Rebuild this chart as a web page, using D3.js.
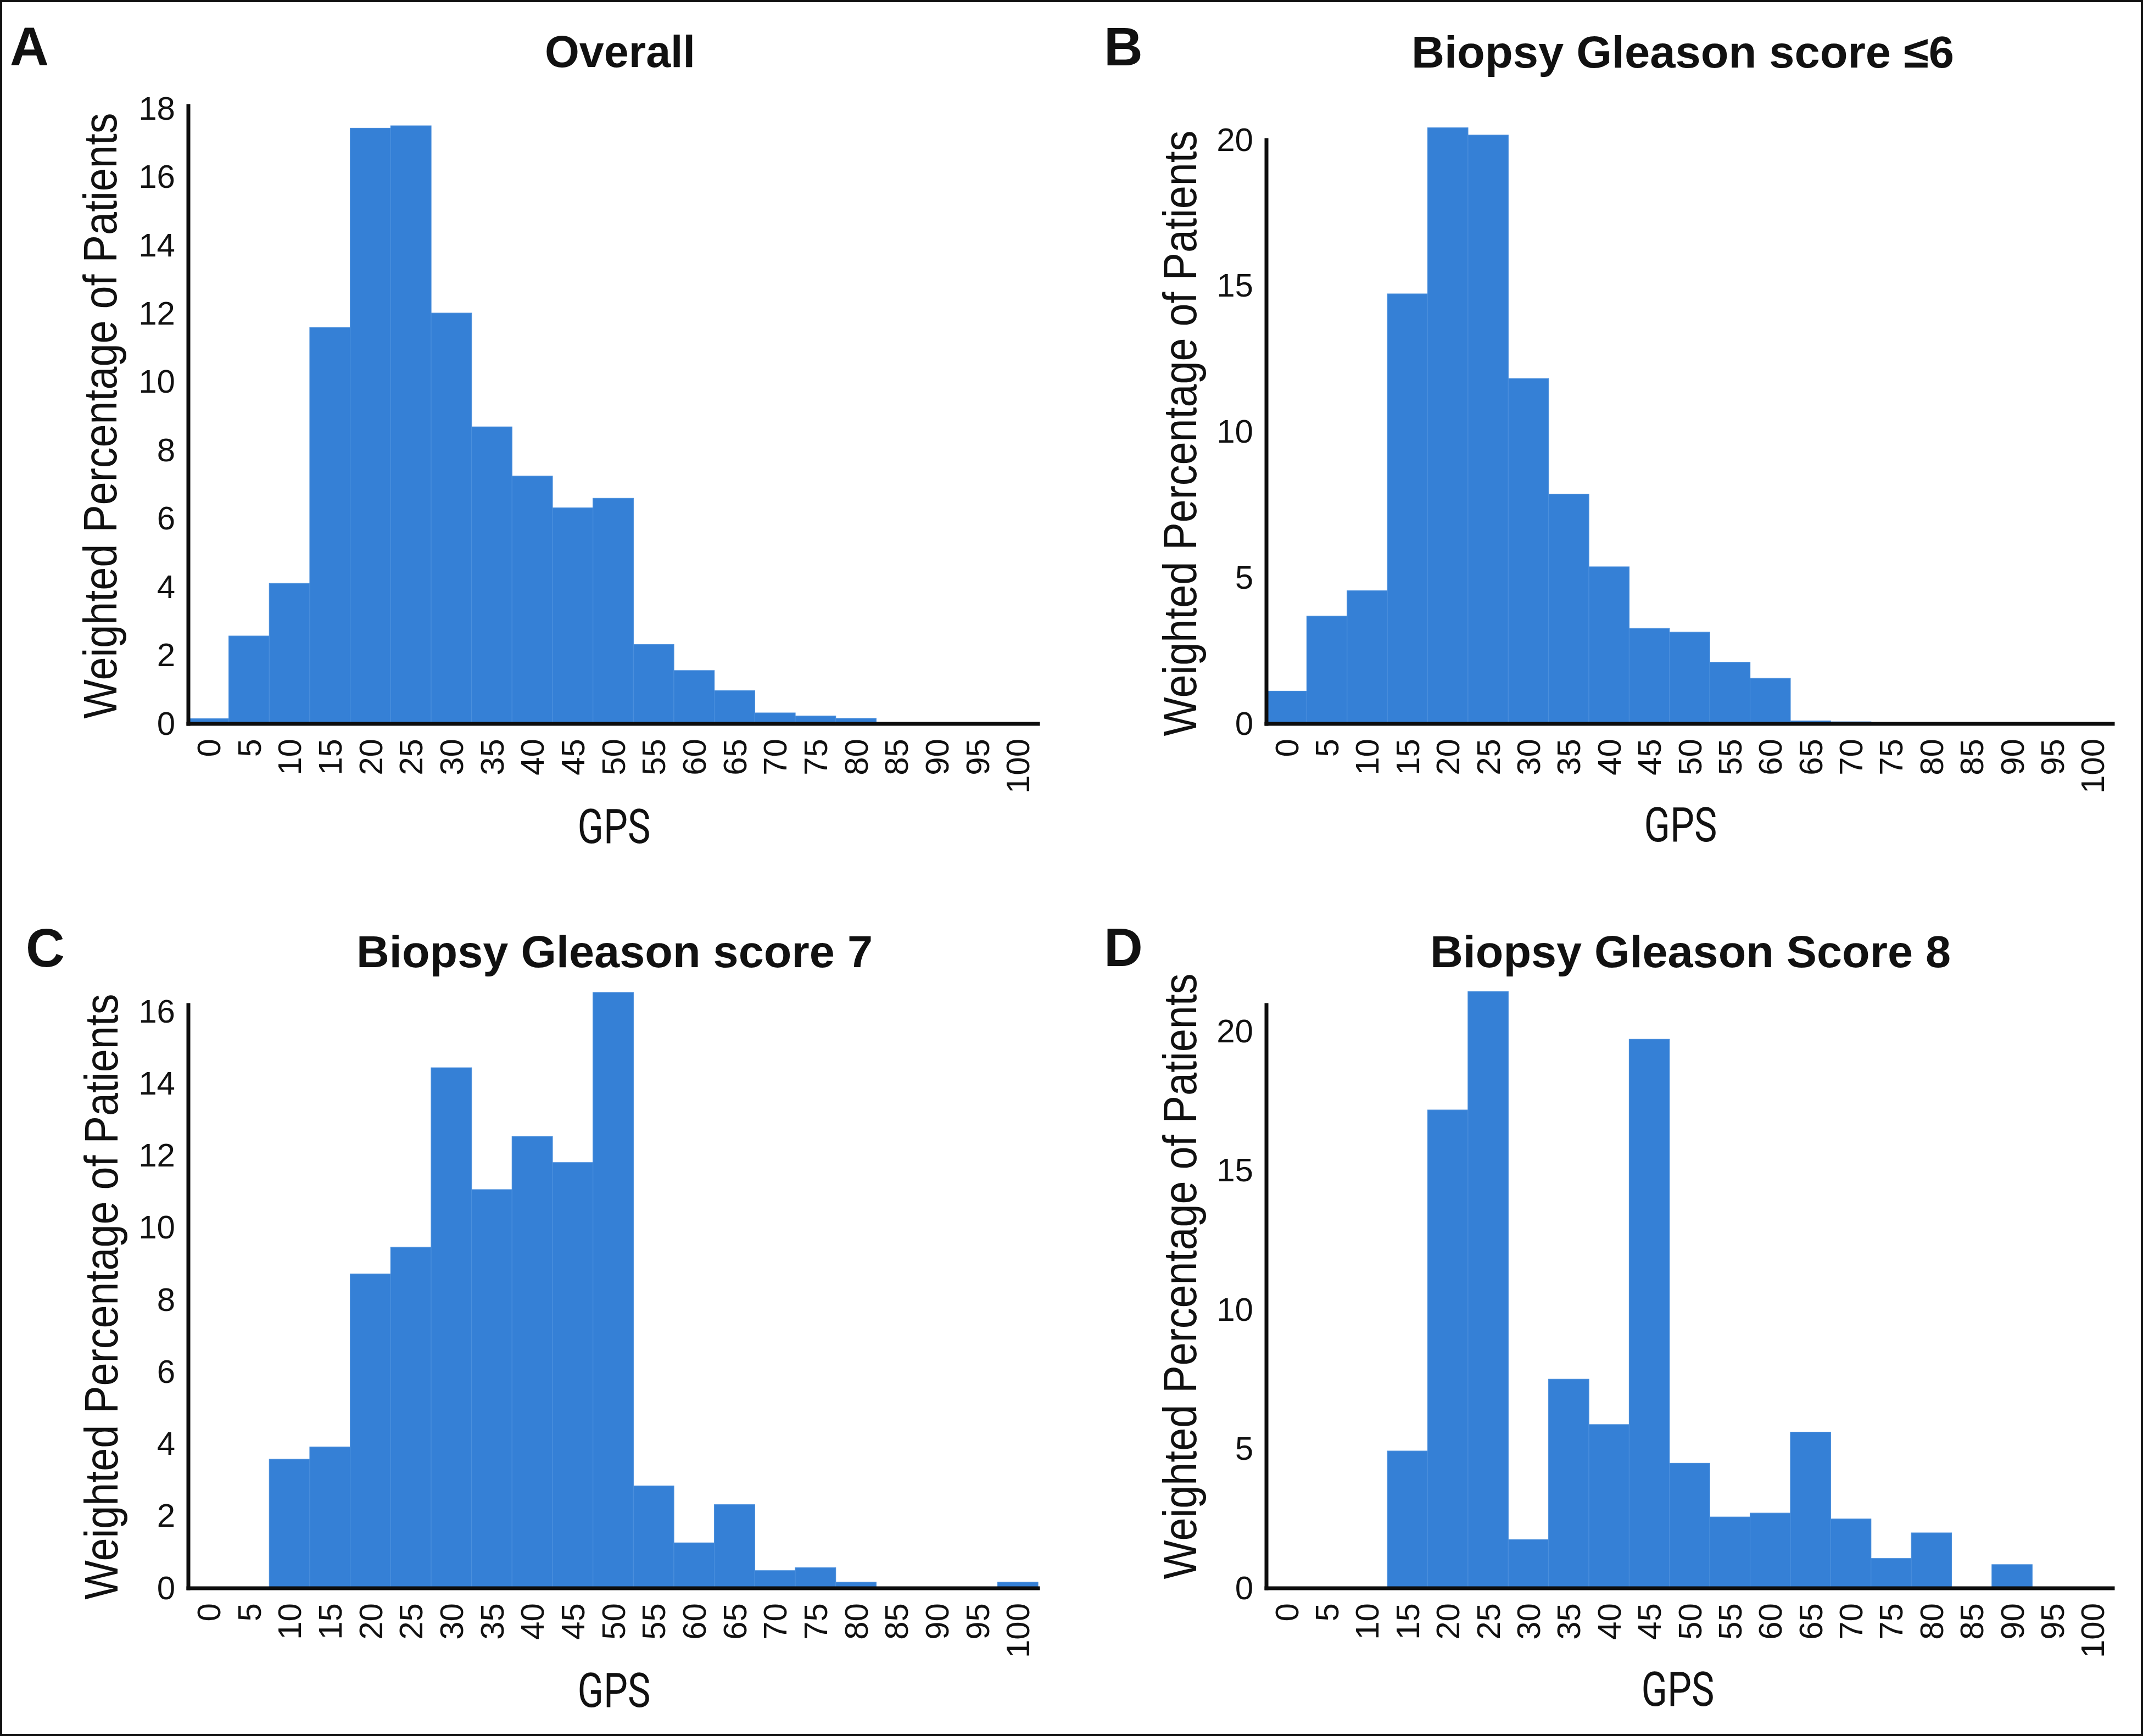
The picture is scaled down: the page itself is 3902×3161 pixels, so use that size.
<!DOCTYPE html>
<html>
<head>
<meta charset="utf-8">
<script src="https://cdn.jsdelivr.net/npm/d3@7"></script>
<style>
  html, body { margin: 0; padding: 0; background: #fff; }
  svg { display: block; }
</style>
</head>
<body>
<svg id="chart" width="3902" height="3161"></svg>
<script>
// ---------- DATA ----------
const categories = [0,5,10,15,20,25,30,35,40,45,50,55,60,65,70,75,80,85,90,95,100];
const overallValues = [0.15,2.57,4.11,11.6,17.43,17.5,12.02,8.69,7.25,6.32,6.6,2.32,1.56,0.97,0.32,0.23,0.16,0,0,0,0];
const gleason6Values = [1.12,3.69,4.56,14.73,20.42,20.17,11.83,7.87,5.38,3.27,3.14,2.11,1.56,0.1,0.07,0,0,0,0,0,0];
const gleason7Values = [0,0,3.58,3.92,8.72,9.46,14.44,11.06,12.53,11.81,16.53,2.84,1.26,2.32,0.49,0.57,0.17,0,0,0,0.17];
const gleason8Values = [0,0,0,4.93,17.18,21.43,1.75,7.51,5.88,19.72,4.49,2.56,2.7,5.61,2.49,1.07,1.99,0,0.85,0,0];
const ticksA = [0,2,4,6,8,10,12,14,16,18];
const ticksB = [0,5,10,15,20];
const ticksC = [0,2,4,6,8,10,12,14,16];
const ticksD = [0,5,10,15,20];
const panelTitles = ["Overall", "Biopsy Gleason score \u22646", "Biopsy Gleason score 7", "Biopsy Gleason Score 8"];
const panelLetters = ["A", "B", "C", "D"];
const yAxisTitle = "Weighted Percentage of Patients";
const xAxisTitle = "GPS";

// ---------- LAYOUT ----------
const FONT = "'Liberation Sans', Arial, Helvetica, sans-serif";
const BAR = "#3580d6";
const panels = [
  { values: overallValues, ticks: ticksA, yMax: 18.08, x0: 343, x1: 1890, yB: 1318, yT: 193,
    title: [1129, 122], titleLen: 274, letter: [18, 118], ylab: [212, 757], xlab: [1118, 1535] },
  { values: gleason6Values, ticks: ticksB, yMax: 20, x0: 2306, x1: 3847, yB: 1318, yT: 255,
    title: [3064, 123], titleLen: 988, letter: [2010, 119], ylab: [2178, 789], xlab: [3060, 1532] },
  { values: gleason7Values, ticks: ticksC, yMax: 16.18, x0: 343, x1: 1890, yB: 2892, yT: 1830,
    title: [1119, 1761], titleLen: 940, letter: [47, 1760], ylab: [214, 2361], xlab: [1118, 3108] },
  { values: gleason8Values, ticks: ticksD, yMax: 20.95, x0: 2306, x1: 3847, yB: 2892, yT: 1830,
    title: [3078, 1761], titleLen: 948, letter: [2010, 1759], ylab: [2178, 2324], xlab: [3055, 3106] }
];

const svg = d3.select("#chart");
svg.append("rect").attr("x", 0).attr("y", 0).attr("width", 3902).attr("height", 3161).attr("fill", "#fff");

panels.forEach((p, i) => {
  const g = svg.append("g");
  const x = d3.scaleBand().domain(categories).range([p.x0, p.x1]).padding(0);
  const y = d3.scaleLinear().domain([0, p.yMax]).range([p.yB, p.yT]);

  // bars
  g.append("g").selectAll("rect")
    .data(categories.map((c, k) => ({ c, v: p.values[k] })).filter(d => d.v > 0))
    .join("rect")
    .attr("x", d => x(d.c))
    .attr("width", x.bandwidth())
    .attr("y", d => y(d.v))
    .attr("height", d => y(0) - y(d.v))
    .attr("fill", BAR)
    .attr("stroke", "#4b8fdc")
    .attr("stroke-width", 1.2);

  // x axis (labels only, no tick marks)
  const xAxis = d3.axisBottom(x).tickSize(0).tickPadding(0);
  const gx = g.append("g").attr("transform", `translate(0,${p.yB})`).call(xAxis);
  gx.select(".domain").remove();
  gx.selectAll("text")
    .attr("transform", "rotate(-90)")
    .attr("x", -27).attr("y", 0).attr("dy", "0.35em")
    .attr("text-anchor", "end")
    .attr("font-family", FONT).attr("font-size", 60).attr("fill", "#111");

  // y axis (labels only)
  const yAxis = d3.axisLeft(y).tickValues(p.ticks).tickSize(0).tickPadding(24).tickFormat(d3.format("d"));
  const gy = g.append("g").attr("transform", `translate(${p.x0},0)`).call(yAxis);
  gy.select(".domain").remove();
  gy.selectAll("text").attr("font-family", FONT).attr("font-size", 60).attr("fill", "#111");

  // axis lines
  g.append("line").attr("x1", p.x0).attr("x2", p.x0).attr("y1", y(p.yMax)).attr("y2", p.yB)
    .attr("stroke", "#0d0d0d").attr("stroke-width", 7).attr("stroke-linecap", "square");
  g.append("line").attr("x1", p.x0).attr("x2", p.x1).attr("y1", p.yB).attr("y2", p.yB)
    .attr("stroke", "#0d0d0d").attr("stroke-width", 7).attr("stroke-linecap", "square");

  // titles
  g.append("text").attr("x", p.title[0]).attr("y", p.title[1])
    .attr("text-anchor", "middle").attr("font-family", FONT).attr("font-weight", "bold")
    .attr("font-size", 82).attr("textLength", p.titleLen).attr("lengthAdjust", "spacingAndGlyphs")
    .attr("fill", "#111").text(panelTitles[i]);
  g.append("text").attr("x", p.letter[0]).attr("y", p.letter[1])
    .attr("font-family", FONT).attr("font-weight", "bold")
    .attr("font-size", 98).attr("fill", "#111").text(panelLetters[i]);

  // y axis title
  g.append("text")
    .attr("transform", `translate(${p.ylab[0]},${p.ylab[1]}) rotate(-90)`)
    .attr("text-anchor", "middle").attr("font-family", FONT).attr("font-size", 85)
    .attr("textLength", 1103).attr("lengthAdjust", "spacingAndGlyphs")
    .attr("fill", "#111").text(yAxisTitle);

  // x axis title
  g.append("text").attr("x", p.xlab[0]).attr("y", p.xlab[1])
    .attr("text-anchor", "middle").attr("font-family", "Roboto, 'Liberation Sans', Arial, sans-serif")
    .attr("font-size", 87).attr("textLength", 133).attr("lengthAdjust", "spacingAndGlyphs")
    .attr("fill", "#111").text(xAxisTitle);
});

// outer frame
svg.append("rect").attr("x", 2).attr("y", 2).attr("width", 3898).attr("height", 3157)
  .attr("fill", "none").attr("stroke", "#111").attr("stroke-width", 4);
</script>
</body>
</html>
